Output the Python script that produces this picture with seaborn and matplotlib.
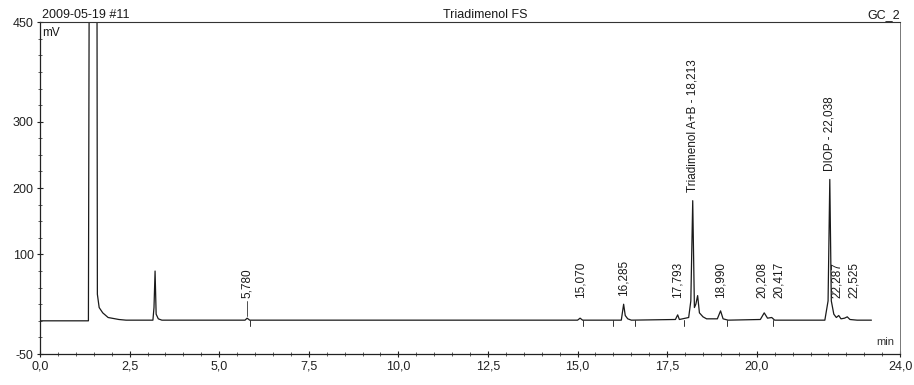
import matplotlib
matplotlib.use("Agg")
import matplotlib.pyplot as plt
import matplotlib.transforms as mtransforms
import seaborn as sns
import pandas as pd

# ---- data ----
time_min = [0.0, 1.35, 1.37, 1.59, 1.60, 1.65, 1.75, 1.90, 2.20, 2.40,
            3.15, 3.18, 3.21, 3.24, 3.30, 3.40,
            5.72, 5.78, 5.85,
            15.00, 15.07, 15.14,
            16.22, 16.285, 16.33, 16.40, 16.50,
            17.73, 17.793, 17.84,
            18.10, 18.16, 18.213, 18.26, 18.30, 18.35, 18.40, 18.50, 18.60,
            18.90, 18.99, 19.06, 19.20,
            20.10, 20.208, 20.30, 20.417, 20.50,
            21.90, 21.99, 22.038, 22.08, 22.15, 22.22, 22.287, 22.35, 22.45,
            22.525, 22.60, 22.80, 23.20]
signal_mv = [0, 0, 470, 470, 40, 20, 12, 5, 2, 1,
             1, 20, 75, 10, 3, 1,
             1, 4, 1,
             1, 4, 1,
             1, 25, 8, 3, 1,
             2, 9, 2,
             5, 30, 181, 20, 25, 38, 12, 6, 3,
             3, 15, 3, 1,
             2, 12, 4, 5, 1,
             1, 30, 213, 30, 10, 5, 8, 3, 4,
             6, 2, 1, 1]

peak_times = [5.780, 15.070, 16.285, 17.793, 18.213, 18.990, 20.208, 20.417,
              22.038, 22.287, 22.525]
peak_heights = [4, 4, 25, 9, 181, 15, 12, 5, 213, 8, 6]
peak_labels = ["5,780", "15,070", "16,285", "17,793", "Triadimenol A+B - 18,213",
               "18,990", "20,208", "20,417", "DIOP - 22,038", "22,287", "22,525"]

delimiter_times = [5.85, 15.15, 16.0, 16.6, 17.97, 19.17, 20.45]

x_ticks = [0.0, 2.5, 5.0, 7.5, 10.0, 12.5, 15.0, 17.5, 20.0, 24.0]
x_tick_labels = ["0,0", "2,5", "5,0", "7,5", "10,0", "12,5", "15,0", "17,5", "20,0", "24,0"]
y_ticks = [-50, 100, 200, 300, 450]
y_tick_labels = ["-50", "100", "200", "300", "450"]

# ---- plotting ----
sns.set_theme(style="white")
plt.rcParams["font.family"] = ["Liberation Sans", "DejaVu Sans"]

fig = plt.figure(figsize=(9.14, 3.85), dpi=100)
ax = fig.add_axes([0.0438, 0.0805, 0.941, 0.862])

df = pd.DataFrame({"t": time_min, "mV": signal_mv})
sns.lineplot(data=df, x="t", y="mV", ax=ax, estimator=None, sort=False,
             color="#1a1a1a", linewidth=0.9)

ax.set_xlim(0, 24)
ax.set_ylim(-50, 450)
ax.set_xlabel("")
ax.set_ylabel("")

ax.set_xticks(x_ticks)
ax.set_xticklabels(x_tick_labels)
ax.set_xticks([v * 0.5 for v in range(0, 49)], minor=True)
ax.set_yticks(y_ticks)
ax.set_yticklabels(y_tick_labels)
ax.set_yticks(list(range(-50, 451, 25)), minor=True)
ax.tick_params(axis="both", which="major", direction="inout", length=5, width=0.8,
               labelsize=9, color="#222222", labelcolor="#222222", pad=2)
ax.tick_params(axis="both", which="minor", direction="inout", length=3, width=0.6,
               color="#444444")
ax.tick_params(axis="x", which="both", bottom=True)
ax.tick_params(axis="y", which="both", left=True)

for side in ["left", "bottom"]:
    ax.spines[side].set_color("#222222")
    ax.spines[side].set_linewidth(0.9)
ax.spines["right"].set_color("#777777")
ax.spines["right"].set_linewidth(0.7)
ax.spines["right"].set_linestyle((0, (3, 1)))
ax.spines["top"].set_color("#333333")
ax.spines["top"].set_linewidth(0.8)

# integration delimiters
for t in delimiter_times:
    ax.plot([t, t], [-8, 1], color="#333333", linewidth=0.7)

# peak labels (close pairs of small peaks nudged apart sideways)
n = len(peak_times)
small = [h < 100 for h in peak_heights]
for i, (t, h, lab) in enumerate(zip(peak_times, peak_heights, peak_labels)):
    dx = 0.0
    if small[i]:
        if i + 1 < n and small[i + 1] and peak_times[i + 1] - t < 0.35:
            dx = -1.5
        elif i > 0 and small[i - 1] and t - peak_times[i - 1] < 0.35:
            dx = 5.0
    y_lab = max(h + 13, 34)
    trans = mtransforms.offset_copy(ax.transData, fig=fig, x=dx, y=0, units="points")
    ax.text(t, y_lab, lab, transform=trans, rotation=90, ha="center", va="bottom",
            fontsize=8.5, color="#1a1a1a")

# short leader for the first labelled peak
ax.plot([peak_times[0], peak_times[0]], [peak_heights[0] + 4, 30],
        color="#333333", linewidth=0.6)

ax.text(0.003, 0.985, "mV", transform=ax.transAxes, ha="left", va="top",
        fontsize=8.5, color="#1a1a1a")
ax.text(0.993, 0.02, "min", transform=ax.transAxes, ha="right", va="bottom",
        fontsize=8, color="#333333")

fig.text(0.0438 + 0.002, 0.945, "2009-05-19 #11", ha="left", va="bottom",
         fontsize=9, color="#1a1a1a")
fig.text(0.531, 0.945, "Triadimenol FS", ha="center", va="bottom",
         fontsize=9, color="#1a1a1a")
fig.text(0.985, 0.945, "GC_2", ha="right", va="bottom",
         fontsize=9, color="#1a1a1a")

fig.savefig("out.png", dpi=100)
